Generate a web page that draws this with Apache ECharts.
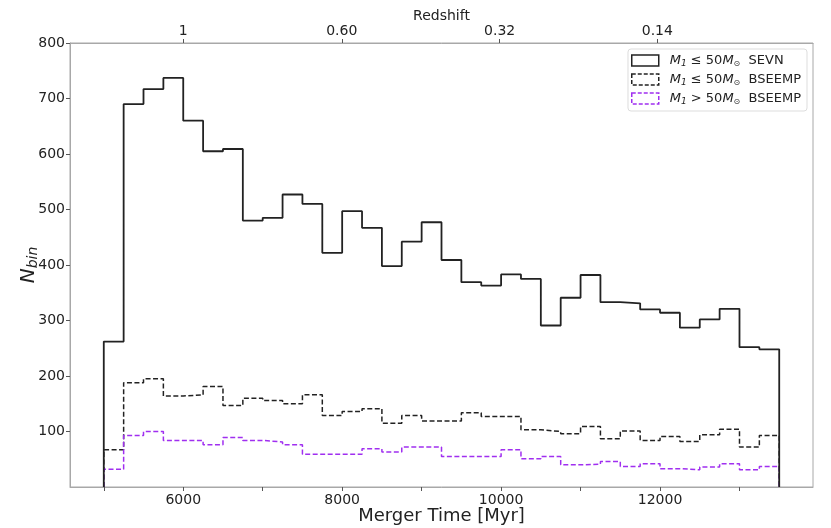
<!DOCTYPE html>
<html>
<head>
<meta charset="utf-8">
<script src="https://cdn.jsdelivr.net/npm/echarts@6/dist/echarts.min.js"></script>
<style>
html,body{margin:0;padding:0;background:#fff;}
#chart{width:831px;height:528px;}
</style>
</head>
<body>
<div id="chart"></div>
<script>
// Bin edges (Myr)
const binEdges = [5000,5250,5500,5750,6000,6250,6500,6750,7000,7250,7500,7750,8000,8250,8500,8750,9000,9250,9500,9750,10000,10250,10500,10750,11000,11250,11500,11750,12000,12250,12500,12750,13000,13250,13500];
// Counts per bin
const sevnLow = [262,690,717,737,660,605,609,480,485,527,510,422,497,467,398,442,477,409,369,363,383,375,291,341,382,333,331,320,314,287,302,321,252,248];
const bseLow = [67,188,195,164,166,181,147,160,156,150,166,129,136,141,115,129,119,119,134,127,127,103,100,96,109,87,101,84,91,82,94,104,72,93];
const bseHigh = [32,93,100,84,84,76,89,84,81,76,59,59,59,69,63,72,72,55,55,55,67,51,55,40,41,46,37,42,33,31,36,42,31,37];
// Top (redshift) axis
const redshiftLabels = ['1','0.60','0.32','0.14'];
const redshiftPositions = [6000,7995,9982,11966];
const xTickLabels = [6000,8000,10000,12000];
const seriesNames = ['SEVN_low','BSE_low','BSE_high'];

function stepData(vals){
  const d = [[binEdges[0],0]];
  for(let i=0;i<vals.length;i++) d.push([binEdges[i],vals[i]]);
  d.push([binEdges[binEdges.length-1], vals[vals.length-1]]);
  d.push([binEdges[binEdges.length-1], 0]);
  return d;
}

const FONT = 'DejaVu Sans';
const purple = '#a02ff0';
const legendRich = {
  f:{fontFamily:FONT,fontStyle:'italic',fontSize:13,color:'#222',padding:[0,0,0,6]},
  m:{fontFamily:FONT,fontStyle:'italic',fontSize:13,color:'#222'},
  sub:{fontFamily:FONT,fontStyle:'italic',fontSize:9,color:'#222',padding:[6,0,0,0]},
  sun:{fontFamily:FONT,fontSize:8,color:'#222',padding:[6,0,0,0]},
  t:{fontFamily:FONT,fontSize:13,color:'#222'}
};
const legendText = {
  SEVN_low:'{f|M}{sub|1}{t| ≤ 50}{m|M}{sun|⊙}{t|  SEVN}',
  BSE_low:'{f|M}{sub|1}{t| ≤ 50}{m|M}{sun|⊙}{t|  BSEEMP}',
  BSE_high:'{f|M}{sub|1}{t| > 50}{m|M}{sun|⊙}{t|  BSEEMP}'
};

const chart = echarts.init(document.getElementById('chart'), null, {renderer:'canvas'});
const axisLineStyle = {color:'#a8a8a8', width:1};
chart.setOption({
  animation:false,
  backgroundColor:'#fff',
  grid:{left:70,right:18,top:43,bottom:41,containLabel:false,outerBoundsMode:'none',show:true,borderColor:'#a8a8a8',borderWidth:1,backgroundColor:'transparent'},
  legend:{
    right:24, top:49, orient:'vertical',
    itemWidth:27, itemHeight:11, itemGap:5,
    padding:[5,6,5,3],
    backgroundColor:'#fff', borderColor:'#dddddd', borderWidth:1, borderRadius:3,
    formatter:function(n){return legendText[n];},
    textStyle:{rich:legendRich, fontFamily:FONT, fontSize:13},
    data:[
      {name:'SEVN_low',icon:'rect',itemStyle:{color:'rgba(0,0,0,0)',borderColor:'#222',borderWidth:1.5,borderType:'solid'}},
      {name:'BSE_low',icon:'rect',itemStyle:{color:'rgba(0,0,0,0)',borderColor:'#222',borderWidth:1.5,borderType:[4,2]}},
      {name:'BSE_high',icon:'rect',itemStyle:{color:'rgba(0,0,0,0)',borderColor:purple,borderWidth:1.5,borderType:[4,2]}}
    ]
  },
  xAxis:[{
    type:'value', min:4575, max:13925, interval:1000, position:'bottom',
    name:'Merger Time [Myr]', nameLocation:'middle', nameGap:20, nameMoveOverlap:false,
    nameTextStyle:{fontFamily:FONT,fontSize:18,color:'#222'},
    axisLine:{show:true,lineStyle:axisLineStyle},
    axisTick:{show:true,length:4,lineStyle:{color:'#555'},customValues:[5000,6000,7000,8000,9000,10000,11000,12000,13000]},
    axisLabel:{fontFamily:FONT,fontSize:14,color:'#222',margin:6,customValues:xTickLabels,formatter:function(v){return String(v);}},
    splitLine:{show:false}
  },{
    type:'value', min:4575, max:13925, position:'top',
    name:'Redshift', nameLocation:'middle', nameGap:20, nameMoveOverlap:false,
    nameTextStyle:{fontFamily:FONT,fontSize:14,color:'#222'},
    axisLine:{show:true,lineStyle:axisLineStyle},
    axisTick:{show:true,length:4,lineStyle:{color:'#555'},customValues:redshiftPositions},
    axisLabel:{fontFamily:FONT,fontSize:14,color:'#222',margin:5,customValues:redshiftPositions,
      formatter:function(v){const i=redshiftPositions.indexOf(v);return i>=0?redshiftLabels[i]:'';}},
    splitLine:{show:false}
  }],
  yAxis:{
    type:'value', min:0, max:800, interval:100,
    name:'{n|N}{s|bin}', nameLocation:'middle', nameGap:30, nameRotate:90, nameMoveOverlap:false,
    nameTextStyle:{rich:{
      n:{fontFamily:FONT,fontStyle:'italic',fontSize:20,color:'#222'},
      s:{fontFamily:FONT,fontStyle:'italic',fontSize:14,color:'#222',padding:[8,0,0,0]}
    }},
    axisLine:{show:true,lineStyle:axisLineStyle},
    axisTick:{show:true,length:4,lineStyle:{color:'#555'},customValues:[100,200,300,400,500,600,700,800]},
    axisLabel:{fontFamily:FONT,fontSize:14,color:'#222',margin:5,formatter:function(v){return v===0?'':String(v);}},
    splitLine:{show:false}
  },
  series:[
    {name:'SEVN_low',type:'line',step:'end',data:stepData(sevnLow),showSymbol:false,symbol:'none',
     lineStyle:{color:'#222',width:1.8},itemStyle:{color:'#222'},z:3},
    {name:'BSE_low',type:'line',step:'end',data:stepData(bseLow),showSymbol:false,symbol:'none',
     lineStyle:{color:'#222',width:1.5,type:[5,2.5]},itemStyle:{color:'#222'},z:2},
    {name:'BSE_high',type:'line',step:'end',data:stepData(bseHigh),showSymbol:false,symbol:'none',
     lineStyle:{color:purple,width:1.5,type:[5,2.5]},itemStyle:{color:purple},z:2}
  ]
});
</script>
</body>
</html>
